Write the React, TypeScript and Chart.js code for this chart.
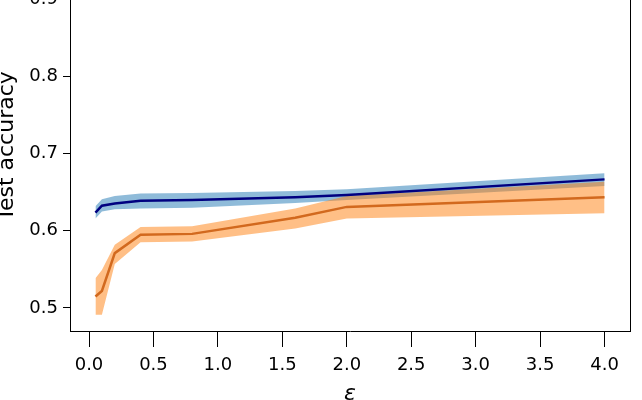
import React, { useEffect, useRef } from "react";
import { Chart, registerables } from "chart.js";

Chart.register(...registerables);

const epsilons = [0.05, 0.1, 0.2, 0.4, 0.8, 1.6, 2.0, 4.0];

const blueMean = [0.6235, 0.6325, 0.6355, 0.639, 0.64, 0.6434, 0.6464, 0.6667];
const blueLow = [0.616, 0.625, 0.628, 0.629, 0.63, 0.636, 0.64, 0.658];
const blueHigh = [0.632, 0.641, 0.645, 0.6485, 0.649, 0.6516, 0.654, 0.6745];

const orangeMean = [0.5147, 0.522, 0.571, 0.595, 0.596, 0.617, 0.631, 0.6434];
const orangeLow = [0.491, 0.491, 0.557, 0.585, 0.586, 0.603, 0.616, 0.6226];
const orangeHigh = [0.5385, 0.549, 0.582, 0.605, 0.606, 0.629, 0.645, 0.6636];

const xTicks = [0, 0.5, 1.0, 1.5, 2.0, 2.5, 3.0, 3.5, 4.0];
const yTicks = [0.5, 0.6, 0.7, 0.8, 0.9];

const FONT = "'DejaVu Sans', sans-serif";

export default function App() {
  const ref = useRef<HTMLCanvasElement>(null);

  useEffect(() => {
    if (!ref.current) return;
    const pts = (ys: number[]) => epsilons.map((x, i) => ({ x, y: ys[i] }));

    const boxPlugin = {
      id: "box",
      afterDraw(chart: any) {
        const { ctx, chartArea } = chart;
        const { left, top, right, bottom } = chartArea;
        ctx.save();
        ctx.strokeStyle = "#000";
        ctx.lineWidth = 1;
        ctx.beginPath();
        const rx = Math.round(right) + 0.5;
        const ty = Math.round(top) + 0.5;
        ctx.moveTo(left, ty);
        ctx.lineTo(rx, ty);
        ctx.lineTo(rx, bottom);
        ctx.stroke();
        ctx.restore();
      },
    };

    const band = (data: number[], fill: any, color: string, order: number) => ({
      data: pts(data),
      borderWidth: 0,
      pointRadius: 0,
      backgroundColor: color,
      borderColor: "transparent",
      fill,
      order,
      tension: 0,
    });

    const chart = new Chart(ref.current, {
      type: "line",
      data: {
        datasets: [
          band(blueHigh, "+1", "rgba(31,119,180,0.5)", 3),
          band(blueLow, false, "rgba(31,119,180,0.5)", 3),
          {
            data: pts(blueMean),
            borderColor: "#000080",
            borderWidth: 2.5,
            pointRadius: 0,
            fill: false,
            order: 1,
            tension: 0,
          },
          band(orangeHigh, "+1", "rgba(255,127,14,0.5)", 2),
          band(orangeLow, false, "rgba(255,127,14,0.5)", 2),
          {
            data: pts(orangeMean),
            borderColor: "#d2691e",
            borderWidth: 2.5,
            pointRadius: 0,
            fill: false,
            order: 0,
            tension: 0,
          },
        ] as any,
      },
      options: {
        animation: false,
        responsive: false,
        events: [],
        layout: { padding: { left: 0, right: 12, top: 0, bottom: 0 } },
        plugins: {
          legend: { display: false },
          tooltip: { enabled: false },
        },
        scales: {
          x: {
            type: "linear",
            min: -0.1475,
            max: 4.1975,
            afterBuildTicks: (s: any) => {
              s.ticks = xTicks.map((v) => ({ value: v }));
            },
            afterFit: (s: any) => {
              s.height = 69;
              s.paddingLeft = 0;
              s.paddingRight = 0;
              s.paddingTop = 0;
              s.paddingBottom = 0;
            },
            grid: {
              display: true,
              drawOnChartArea: false,
              drawTicks: true,
              tickLength: 16,
              tickColor: "#000",
              tickWidth: 1,
            },
            border: { display: true, color: "#000", width: 1 },
            ticks: {
              color: "#000",
              font: { family: FONT, size: 18 },
              padding: 7.5,
              maxRotation: 0,
              autoSkip: false,
              callback: (v: any) => Number(v).toFixed(1),
            },
            title: {
              display: true,
              text: "ε",
              color: "#000",
              font: { family: FONT, size: 22, style: "italic", lineHeight: 0.5 },
              padding: 0,
            },
          },
          y: {
            type: "linear",
            min: 0.47,
            max: 0.95,
            afterBuildTicks: (s: any) => {
              s.ticks = yTicks.map((v) => ({ value: v }));
            },
            afterFit: (s: any) => {
              s.width = 70;
              s.paddingLeft = 0;
              s.paddingRight = 0;
              s.paddingTop = 0;
              s.paddingBottom = 0;
            },
            grid: {
              display: true,
              drawOnChartArea: false,
              drawTicks: true,
              tickLength: 7,
              tickColor: "#000",
              tickWidth: 1,
            },
            border: { display: true, color: "#000", width: 1 },
            ticks: {
              color: "#000",
              font: { family: FONT, size: 18 },
              padding: 5,
              autoSkip: false,
              callback: (v: any) => Number(v).toFixed(1),
            },
            title: {
              display: true,
              text: "Test accuracy",
              color: "#000",
              font: { family: FONT, size: 22, lineHeight: 0.65 },
              padding: 0,
            },
          },
        },
      } as any,
      plugins: [boxPlugin],
    });

    return () => chart.destroy();
  }, []);

  return (
    <div
      style={{
        position: "fixed",
        left: 0,
        top: -39,
        width: 642,
        height: 439,
        background: "#fff",
      }}
    >
      <canvas ref={ref} width={642} height={439} style={{ display: "block" }} />
    </div>
  );
}
